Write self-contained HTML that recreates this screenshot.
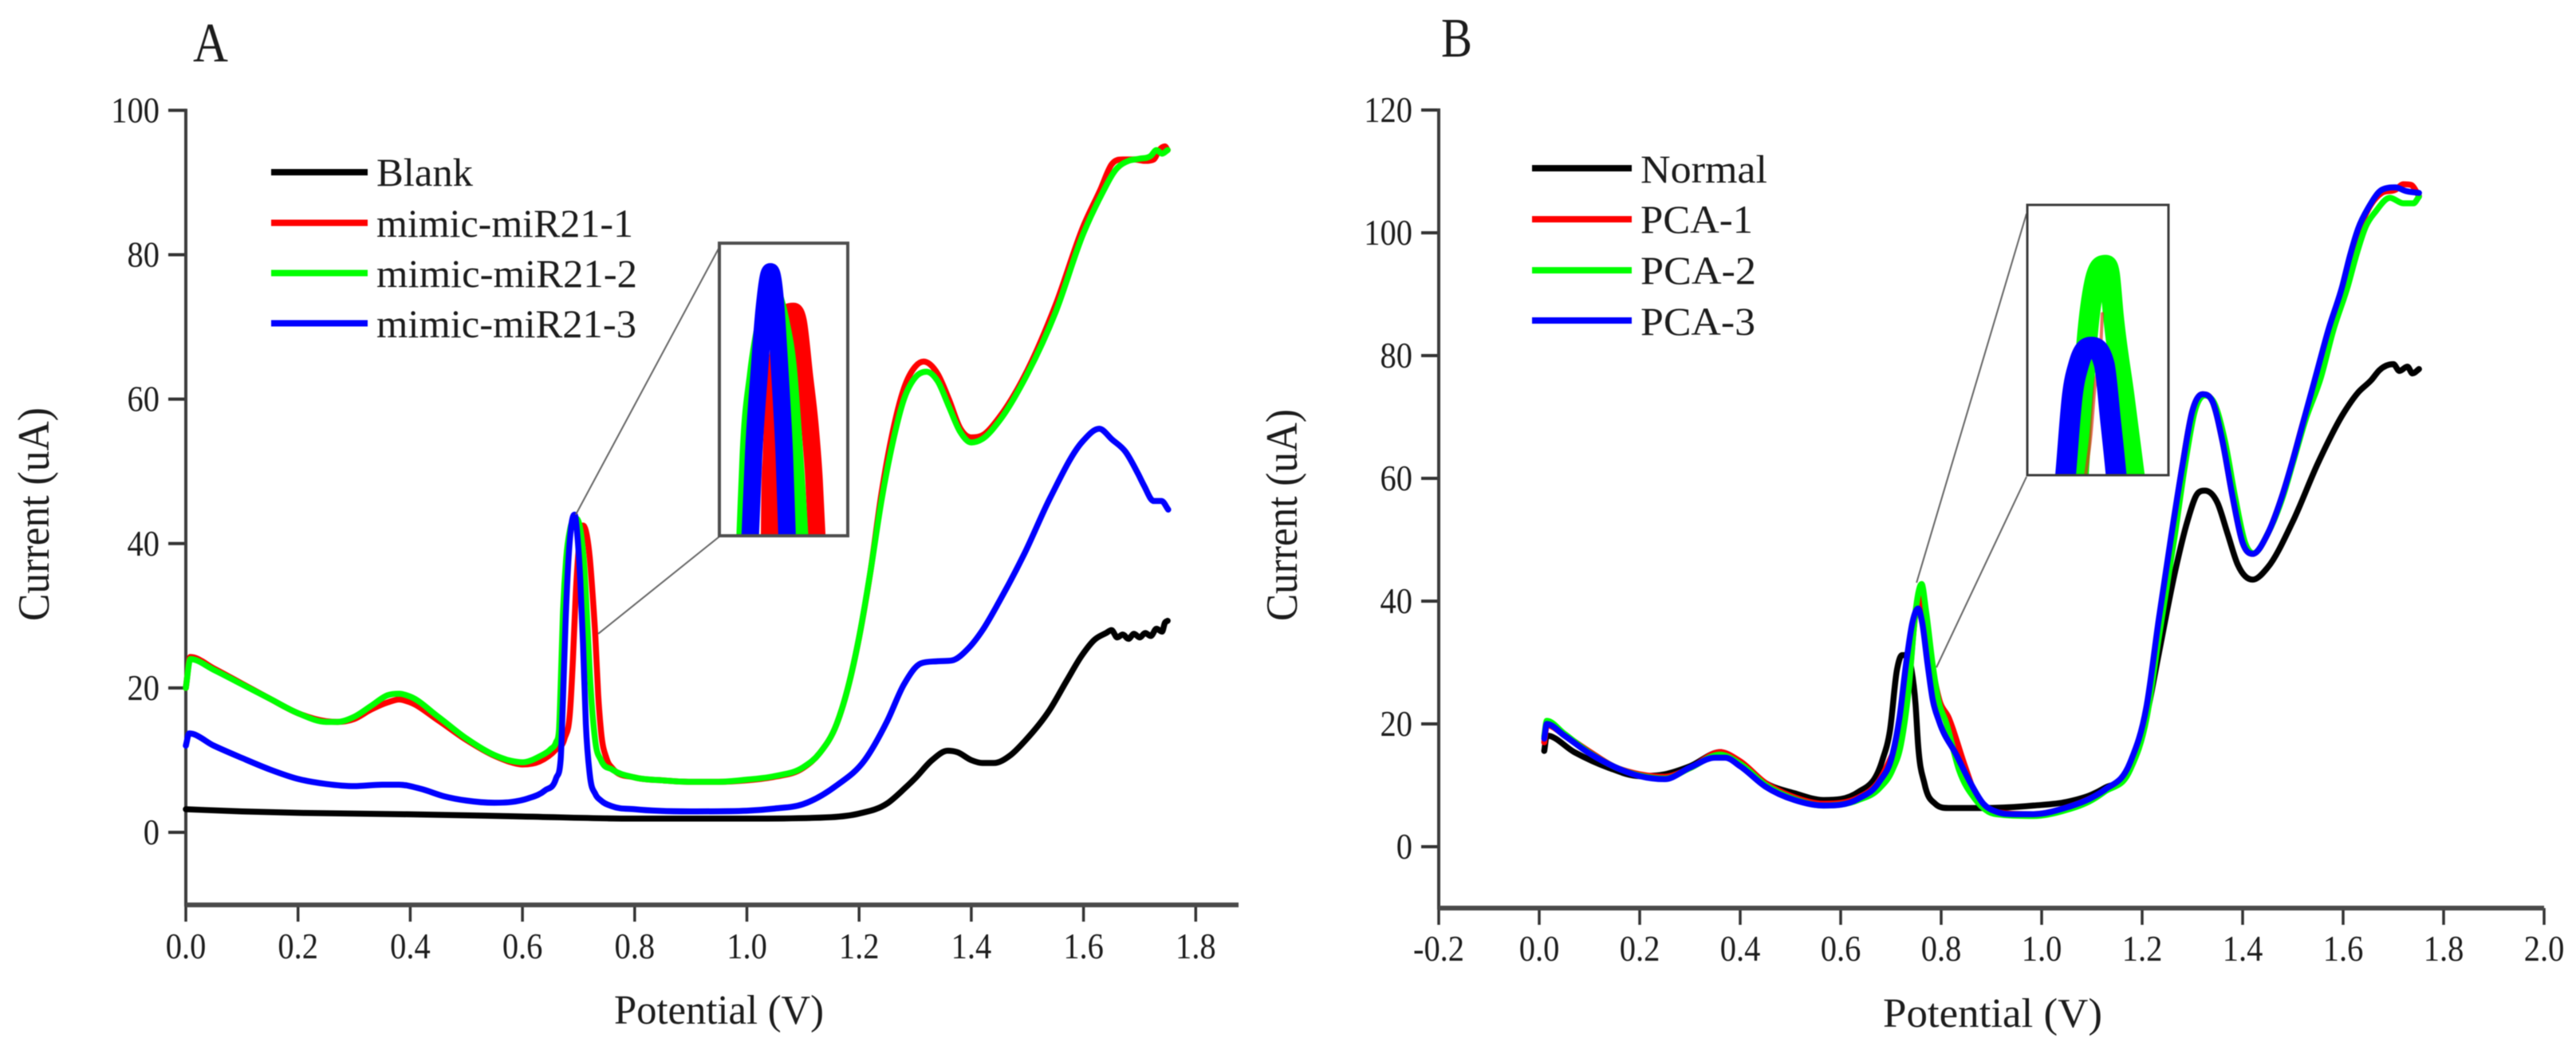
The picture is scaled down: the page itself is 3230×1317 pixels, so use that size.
<!DOCTYPE html>
<html lang="en">
<head>
<meta charset="utf-8">
<title>Current vs potential curves, panels A and B</title>
<style>
  html,body{margin:0;padding:0;background:#fff;}
  svg{display:block;font-family:"Liberation Serif",serif;fill:#1c1c1c;filter:blur(0.6px);}
</style>
</head>
<body>
<svg id="chart" xmlns="http://www.w3.org/2000/svg" width="3230" height="1317" viewBox="0 0 3230 1317">
  <rect x="0" y="0" width="3230" height="1317" fill="#fff"/>
  <defs>
    <clipPath id="clipInsetA"><rect x="902" y="305" width="161" height="367"/></clipPath>
    <clipPath id="clipInsetB"><rect x="2542" y="257" width="177" height="339"/></clipPath>
  </defs>

  <text x="242" y="77" font-size="70" textLength="44" lengthAdjust="spacingAndGlyphs">A</text>
  <text x="1807" y="71" font-size="70" textLength="39" lengthAdjust="spacingAndGlyphs">B</text>

  <text transform="translate(61,779) rotate(-90)" font-size="56" textLength="268" lengthAdjust="spacingAndGlyphs">Current (uA)</text>
  <text transform="translate(1626,779) rotate(-90)" font-size="56" textLength="266" lengthAdjust="spacingAndGlyphs">Current (uA)</text>
  <text x="770" y="1284" font-size="52" textLength="263" lengthAdjust="spacingAndGlyphs">Potential (V)</text>
  <text x="2361" y="1288" font-size="52" textLength="275" lengthAdjust="spacingAndGlyphs">Potential (V)</text>

  <g font-size="50">
    <line x1="340" x2="461" y1="216" y2="216" stroke="#000" stroke-width="8"/>
    <text x="472" y="233" textLength="121" lengthAdjust="spacingAndGlyphs">Blank</text>
    <line x1="340" x2="461" y1="279.5" y2="279.5" stroke="#f00" stroke-width="8"/>
    <text x="472" y="297" textLength="322" lengthAdjust="spacingAndGlyphs">mimic-miR21-1</text>
    <line x1="340" x2="461" y1="342.5" y2="342.5" stroke="#0f0" stroke-width="8"/>
    <text x="472" y="360" textLength="327" lengthAdjust="spacingAndGlyphs">mimic-miR21-2</text>
    <line x1="340" x2="461" y1="405.5" y2="405.5" stroke="#00f" stroke-width="8"/>
    <text x="472" y="423" textLength="326" lengthAdjust="spacingAndGlyphs">mimic-miR21-3</text>
  </g>

  <g font-size="50">
    <line x1="1921" x2="2046" y1="211" y2="211" stroke="#000" stroke-width="8"/>
    <text x="2057" y="229" textLength="159" lengthAdjust="spacingAndGlyphs">Normal</text>
    <line x1="1921" x2="2046" y1="275" y2="275" stroke="#f00" stroke-width="8"/>
    <text x="2057" y="292" textLength="141" lengthAdjust="spacingAndGlyphs">PCA-1</text>
    <line x1="1921" x2="2046" y1="339" y2="339" stroke="#0f0" stroke-width="8"/>
    <text x="2057" y="356" textLength="145" lengthAdjust="spacingAndGlyphs">PCA-2</text>
    <line x1="1921" x2="2046" y1="402" y2="402" stroke="#00f" stroke-width="8"/>
    <text x="2057" y="420" textLength="144" lengthAdjust="spacingAndGlyphs">PCA-3</text>
  </g>
</svg>

<script>
// ---- Tick values ----
const xTicksA = [0, 0.2, 0.4, 0.6, 0.8, 1.0, 1.2, 1.4, 1.6, 1.8];
const yTicksA = [0, 20, 40, 60, 80, 100];
const xTicksB = [-0.2, 0, 0.2, 0.4, 0.6, 0.8, 1.0, 1.2, 1.4, 1.6, 1.8, 2.0];
const yTicksB = [0, 20, 40, 60, 80, 100, 120];

// ---- Panel A series: [potential V, current uA] ----
const blankA = [[0,3.2],[.1,2.9],[.2,2.7],[.4,2.5],[.6,2.2],[.8,1.9],[1,1.9],[1.15,2.1],[1.2,2.6],[1.25,4],[1.28,6],[1.3,7.5],[1.33,10],[1.358,11.3],[1.375,11.1],[1.4,10],[1.42,9.6],[1.44,9.6],[1.47,10.7],[1.496,12.7],[1.54,17],[1.57,21],[1.597,24.5],[1.62,26.7],[1.64,27.6],[1.65,28],[1.66,27],[1.67,27.4],[1.68,26.8],[1.69,27.5],[1.7,27],[1.71,27.6],[1.72,27.2],[1.73,28.2],[1.74,27.8],[1.745,29],[1.75,29.3]];
const mimic1A = [[0,20],[.008,24.3],[.05,22.7],[.1,20.6],[.15,18.5],[.2,16.5],[.25,15.4],[.27,15.3],[.3,15.7],[.33,17],[.36,18],[.38,18.4],[.4,18],[.45,15.5],[.5,12.8],[.55,10.6],[.58,9.7],[.6,9.4],[.63,9.8],[.66,11.5],[.675,13],[.685,17],[.69,24],[.695,33],[.7,39],[.708,42.5],[.715,41],[.72,38],[.725,33],[.73,27],[.735,19],[.74,14],[.75,10.2],[.76,8.9],[.8,7.6],[.85,7.2],[.9,7],[.95,7],[1,7.2],[1.05,7.7],[1.1,8.9],[1.13,11],[1.16,15],[1.18,20],[1.2,27],[1.22,36],[1.24,47],[1.26,55.5],[1.28,61.5],[1.3,64.5],[1.315,65.2],[1.34,63.5],[1.36,60],[1.38,56],[1.4,54.7],[1.42,55],[1.45,57.5],[1.5,64],[1.55,73],[1.6,84],[1.63,89],[1.65,92.5],[1.67,93.2],[1.69,93.2],[1.71,93],[1.725,93.2],[1.735,94.5],[1.745,95],[1.75,94.5]];
const mimic2A = [[0,20],[.008,24],[.05,22.5],[.1,20.5],[.15,18.5],[.2,16.5],[.25,15.3],[.27,15.3],[.3,16],[.33,17.5],[.36,19],[.38,19.2],[.4,18.8],[.45,16],[.5,13],[.55,10.7],[.58,9.9],[.6,9.7],[.63,10.5],[.65,11.5],[.66,12.5],[.665,14],[.668,20],[.672,30],[.678,38],[.685,42],[.695,43.5],[.705,41],[.71,37],[.715,30],[.72,22],[.73,12.5],[.74,10],[.76,8.7],[.8,7.6],[.85,7.2],[.9,7],[.95,7],[1,7.3],[1.05,7.8],[1.1,9],[1.13,11],[1.16,15],[1.18,20],[1.2,27],[1.22,36],[1.24,46],[1.26,54],[1.28,60],[1.3,63],[1.32,63.8],[1.34,62.5],[1.36,59],[1.38,55.5],[1.4,54],[1.42,54.5],[1.45,57],[1.5,63.5],[1.55,72],[1.6,83],[1.63,88],[1.66,92],[1.68,93],[1.7,93.3],[1.72,93.7],[1.73,94.5],[1.74,94],[1.75,94.5]];
const mimic3A = [[0,12],[.006,13.7],[.05,12],[.1,10.3],[.15,8.7],[.2,7.4],[.25,6.7],[.3,6.4],[.35,6.6],[.38,6.6],[.42,6],[.46,5],[.5,4.4],[.55,4.1],[.58,4.2],[.61,4.7],[.64,5.8],[.66,7.5],[.668,10],[.672,18],[.677,29.5],[.683,39],[.688,43],[.693,44],[.698,41],[.703,35],[.708,26],[.713,15],[.72,8],[.73,5.3],[.74,4.4],[.76,3.6],[.8,3.2],[.9,2.9],[1,3],[1.05,3.3],[1.1,3.9],[1.16,6.5],[1.21,10],[1.25,15.4],[1.28,20.5],[1.31,23.4],[1.34,23.7],[1.365,23.8],[1.395,25.5],[1.42,28],[1.45,32],[1.494,38.5],[1.541,46.4],[1.599,54.2],[1.628,55.9],[1.651,54.4],[1.675,52.7],[1.697,49.7],[1.708,48],[1.725,45.9],[1.739,45.9],[1.751,44.7]];

// ---- Panel B series ----
const normalB = [[.01,15.6],[.015,18.1],[.07,15.4],[.137,12.9],[.2,11.5],[.25,11.8],[.3,13.1],[.36,15.4],[.4,13.7],[.45,10.4],[.508,8.7],[.566,7.6],[.635,8.9],[.683,14.1],[.698,18.9],[.712,28.8],[.722,31.2],[.73,31.2],[.741,28.8],[.749,23.2],[.754,16.7],[.767,10.2],[.788,7],[.815,6.3],[.878,6.3],[.984,6.7],[1.05,7.3],[1.1,8.5],[1.126,9.6],[1.176,12.6],[1.209,21.4],[1.233,31.4],[1.266,45],[1.29,53],[1.31,57.5],[1.325,58],[1.35,56],[1.37,51],[1.39,46],[1.42,43.5],[1.45,45.5],[1.5,53],[1.55,62.5],[1.6,70.5],[1.63,74],[1.656,76],[1.672,77.6],[1.7,78.6],[1.712,77.5],[1.728,78.2],[1.738,77.1],[1.751,77.8]];
const pca1B = [[.01,17],[.015,19.8],[.05,18.2],[.1,15.5],[.15,13],[.2,11.8],[.25,11.4],[.3,12.8],[.36,15.4],[.4,13.9],[.45,10.4],[.5,8.3],[.566,7],[.635,8],[.677,10.8],[.703,15],[.72,18],[.735,26],[.749,38],[.757,40.5],[.77,36],[.783,29],[.796,24],[.815,21],[.847,13.2],[.868,8.5],[.9,5.8],[.984,5.3],[1.05,6.4],[1.1,8],[1.126,9.2],[1.176,13],[1.209,22],[1.233,35],[1.258,50],[1.28,62],[1.3,71],[1.32,73.7],[1.34,72.5],[1.36,66],[1.38,57],[1.4,49.5],[1.42,47.7],[1.45,51],[1.48,57.5],[1.5,63],[1.52,69],[1.55,77],[1.571,84],[1.6,91],[1.63,100],[1.651,104],[1.677,106.5],[1.704,107],[1.72,107.9],[1.735,107.8],[1.751,106]];
const pca2B = [[.01,18],[.015,20.5],[.05,18.4],[.1,15.3],[.15,13],[.2,11.6],[.25,11.1],[.3,12.8],[.36,15],[.4,13.5],[.45,10.1],[.5,8],[.566,6.7],[.635,7.6],[.677,9.5],[.703,12.5],[.72,16.7],[.735,25.4],[.749,38.3],[.755,41.5],[.761,42.8],[.77,38.3],[.783,29.7],[.794,24],[.81,20.2],[.836,12.4],[.868,7.7],[.894,5.7],[.92,5.2],[.984,5],[1.05,6],[1.1,7.6],[1.126,9],[1.176,12.5],[1.209,21],[1.233,34],[1.265,50.7],[1.285,62],[1.305,71],[1.325,73.5],[1.345,72],[1.365,66],[1.385,57],[1.405,49.5],[1.422,47.8],[1.45,51],[1.48,57],[1.5,62.5],[1.525,69.5],[1.556,76.5],[1.58,84],[1.61,91.5],[1.625,96],[1.645,101],[1.665,103.5],[1.693,105.7],[1.72,104.8],[1.74,104.8],[1.751,105.9]];
const pca3B = [[.01,17.6],[.015,20],[.05,18.1],[.1,15.2],[.15,13],[.2,11.5],[.25,11],[.3,12.9],[.35,14.5],[.37,14.5],[.4,13.1],[.45,9.8],[.508,7.6],[.566,6.7],[.635,7.8],[.677,10.6],[.703,15],[.717,21],[.73,29.7],[.743,36.6],[.754,38.8],[.762,36.6],[.773,29.7],[.783,24],[.796,20.4],[.83,15],[.857,10.6],[.884,7],[.91,5.7],[.947,5.3],[.984,5.3],[1.05,6.4],[1.1,8],[1.126,9.3],[1.176,13.7],[1.209,23],[1.233,37],[1.258,50.7],[1.28,62],[1.3,71],[1.32,73.7],[1.34,72.5],[1.36,66],[1.38,57],[1.4,49.5],[1.42,47.7],[1.45,51],[1.48,57.5],[1.5,63],[1.52,69],[1.545,76.5],[1.571,84.3],[1.598,91.2],[1.614,96.4],[1.63,100.7],[1.651,104.2],[1.677,107],[1.704,107.4],[1.725,106.8],[1.751,106.5]];

// ---- Magnified inset series ----
const insetRedA = [[.6915,35.5],[.6915,36.88],[.6927,39.38],[.6949,41.46],[.699,43.13],[.7032,43.83],[.7065,43.86],[.7094,43.54],[.7132,41.88],[.7169,40.21],[.7194,38.54],[.721,36.88],[.7222,35.5]];
const insetGreenA = [[.675,35.5],[.6762,36.88],[.6782,39.38],[.6828,41.88],[.6882,43.54],[.6931,44.46],[.6957,44.13],[.6985,43.54],[.7035,41.88],[.706,40.21],[.7082,38.54],[.7102,36.88],[.7115,35.5]];
const insetBlueA = [[.6785,35.5],[.6794,36.88],[.6815,39.38],[.6849,41.88],[.6882,43.96],[.692,45.1],[.6954,43.96],[.697,42.71],[.699,41.05],[.7007,39.38],[.7024,36.88],[.7035,35.5]];
const insetGreenB = [[.7415,35.09],[.744,37.18],[.7473,39.68],[.7523,41.59],[.759,42.11],[.7615,41.84],[.764,40.51],[.7707,38.01],[.7782,35.09]];
const insetRedB = [[.7465,35.51],[.7498,36.76],[.7523,38.26],[.7565,40.01],[.757,40.59]];
const insetBlueB = [[.7332,35.09],[.734,35.53],[.7382,38.01],[.7423,39.01],[.7498,39.54],[.7582,39.01],[.7623,37.18],[.7657,35.53],[.7665,35.09]];

// ---- Connector anchors on the main curves [V, uA] ----
const connectorsA = [[0.695, 44], [0.735, 27.5]];
const connectorsB = [[0.751, 43], [0.7905, 29.2]];

// ---- Axis functions ----
const xA = v => 233 + 703.5 * v;
const yA = i => 1044 - 9.056 * i;
const xB = v => 1930 + 630 * v;
const yB = i => 1062 - 7.7 * i;
const xInsetA = v => 902 + (v - 0.66) * 2000;
const yInsetA = i => 305 + (46 - i) * 40;
const xInsetB = v => 2542 + (v - 0.71) * 2000;
const yInsetB = i => 257 + (44 - i) * 40;

const svg = document.getElementById('chart');
const NS = 'http://www.w3.org/2000/svg';

function make(tag, attrs, parent) {
  const el = document.createElementNS(NS, tag);
  Object.keys(attrs).forEach(k => el.setAttribute(k, attrs[k]));
  (parent || svg).appendChild(el);
  return el;
}

// Cubic path using non-uniform central tangents, clamped so peaks do not overshoot
function curvePath(pts) {
  const n = pts.length;
  const dx = [], m = [], t = new Array(n);
  for (let i = 0; i < n - 1; i++) {
    dx[i] = Math.max(pts[i + 1][0] - pts[i][0], 0.001);
    m[i] = (pts[i + 1][1] - pts[i][1]) / dx[i];
  }
  t[0] = m[0];
  t[n - 1] = m[n - 2];
  for (let i = 1; i < n - 1; i++) {
    if (m[i - 1] * m[i] <= 0) {
      t[i] = 0;
    } else {
      const p = (m[i - 1] * dx[i] + m[i] * dx[i - 1]) / (dx[i - 1] + dx[i]);
      const limit = 3 * Math.min(Math.abs(m[i - 1]), Math.abs(m[i]));
      t[i] = Math.sign(p) * Math.min(Math.abs(p), limit);
    }
  }
  let d = 'M' + pts[0][0].toFixed(2) + ' ' + pts[0][1].toFixed(2);
  for (let i = 0; i < n - 1; i++) {
    const h = dx[i] / 3;
    d += 'C' + (pts[i][0] + h).toFixed(2) + ' ' + (pts[i][1] + t[i] * h).toFixed(2) + ' ' +
      (pts[i + 1][0] - h).toFixed(2) + ' ' + (pts[i + 1][1] - t[i + 1] * h).toFixed(2) + ' ' +
      pts[i + 1][0].toFixed(2) + ' ' + pts[i + 1][1].toFixed(2);
  }
  return d;
}

function drawSeries(data, xf, yf, color, width, name, parent, opacity) {
  const pts = data.map(p => [xf(p[0]), yf(p[1])]);
  const el = make('path', {
    d: curvePath(pts), fill: 'none', stroke: color, 'stroke-width': width,
    'stroke-linejoin': 'round', 'stroke-linecap': 'round', opacity: opacity === undefined ? 1 : opacity
  }, parent);
  
  
  return el;
}

function drawAxes(prefix, xf, yf, xTicks, yTicks, xLeft, xRight, yTop, yBottom, xLabelBase) {
  xTicks.forEach(v => {
    const tick = make('line', { x1: xf(v), x2: xf(v), y1: yBottom, y2: yBottom + 21, stroke: '#333', 'stroke-width': 3.5 });
    
    
    const label = make('text', {
      'font-size': 46, 'text-anchor': 'middle',
      transform: 'translate(' + xf(v) + ',' + xLabelBase + ') scale(.88,1)'
    });
    label.textContent = v.toFixed(1);
    
    
  });
  yTicks.forEach(v => {
    const tick = make('line', { x1: xLeft - 22, x2: xLeft, y1: yf(v), y2: yf(v), stroke: '#333', 'stroke-width': 4 });
    
    
    const label = make('text', {
      'font-size': 46, 'text-anchor': 'end',
      transform: 'translate(' + (xLeft - 33) + ',' + (yf(v) + 15) + ') scale(.88,1)'
    });
    label.textContent = String(v);
    
    
  });
  const yAxis = make('line', { x1: xLeft, x2: xLeft, y1: yTop - 2, y2: yBottom + 2, stroke: '#3c3c3c', 'stroke-width': 4 });
  
  
  const xAxis = make('line', { x1: xLeft, x2: xRight, y1: yBottom, y2: yBottom, stroke: '#4a4a4a', 'stroke-width': 6 });
  
  
}

function drawConnector(name, x1, y1, x2, y2) {
  const el = make('line', { x1: x1, y1: y1, x2: x2, y2: y2, stroke: '#666', 'stroke-width': 2 });
  
  
}

// ---- Panel A ----
drawAxes('panel-a', xA, yA, xTicksA, yTicksA, 233, 1553, yA(100), 1135, 1202);
drawSeries(blankA, xA, yA, '#000', 7.5, 'series-blank');
drawSeries(mimic1A, xA, yA, '#f00', 7.5, 'series-mimic-mir21-1');
drawSeries(mimic2A, xA, yA, '#0f0', 7.5, 'series-mimic-mir21-2');
drawSeries(mimic3A, xA, yA, '#00f', 7.5, 'series-mimic-mir21-3');
drawConnector('panel-a-inset-connector-top', xA(connectorsA[0][0]), yA(connectorsA[0][1]), 902, 310);
drawConnector('panel-a-inset-connector-bottom', xA(connectorsA[1][0]), yA(connectorsA[1][1]), 902, 673);

const insetGroupA = make('g', { 'clip-path': 'url(#clipInsetA)' });


drawSeries(insetRedA, xInsetA, yInsetA, '#f00', 22, 'inset-series-mimic-mir21-1', insetGroupA);
drawSeries(insetGreenA, xInsetA, yInsetA, '#0f0', 22, 'inset-series-mimic-mir21-2', insetGroupA);
drawSeries(insetBlueA, xInsetA, yInsetA, '#00f', 22, 'inset-series-mimic-mir21-3', insetGroupA);
const insetBoxA = make('rect', { x: 902, y: 305, width: 161, height: 367, fill: 'none', stroke: '#4f4f4f', 'stroke-width': 4 });



// ---- Panel B ----
drawAxes('panel-b', xB, yB, xTicksB, yTicksB, 1804, 3190, yB(120), 1139, 1205);
drawSeries(normalB, xB, yB, '#000', 7.5, 'series-normal');
drawSeries(pca1B, xB, yB, '#f00', 7.5, 'series-pca-1');
drawSeries(pca2B, xB, yB, '#0f0', 7.5, 'series-pca-2');
drawSeries(pca3B, xB, yB, '#00f', 7.5, 'series-pca-3');
drawConnector('panel-b-inset-connector-top', xB(connectorsB[0][0]), yB(connectorsB[0][1]), 2541, 268);
drawConnector('panel-b-inset-connector-bottom', xB(connectorsB[1][0]), yB(connectorsB[1][1]), 2541, 598);

const insetGroupB = make('g', { 'clip-path': 'url(#clipInsetB)' });


drawSeries(insetGreenB, xInsetB, yInsetB, '#0f0', 26, 'inset-series-pca-2', insetGroupB);
drawSeries(insetRedB, xInsetB, yInsetB, '#e0301a', 4, 'inset-series-pca-1', insetGroupB, 0.7);
drawSeries(insetBlueB, xInsetB, yInsetB, '#00f', 26, 'inset-series-pca-3', insetGroupB);
const insetBoxB = make('rect', { x: 2542, y: 257, width: 177, height: 339, fill: 'none', stroke: '#3c3c3c', 'stroke-width': 3 });


</script>
</body>
</html>
